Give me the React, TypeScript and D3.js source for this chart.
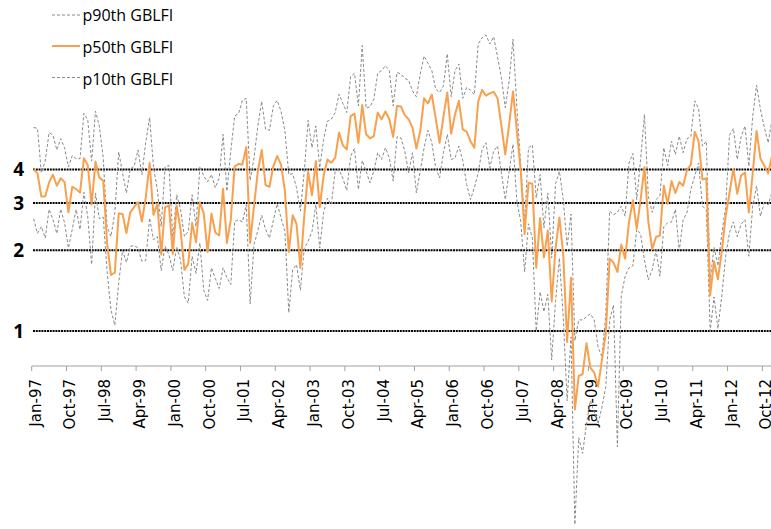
import React from "react";
import * as d3 from "d3";

// Monthly categories Jan-97 .. Dec-12
const categories: string[] = d3
  .timeMonth.range(new Date(1997, 0, 1), new Date(2013, 0, 1))
  .map(d3.timeFormat("%b-%y"));

const p90: number[] = [
  5.74, 5.69, 3.89, 4.30, 5.49, 5.37, 4.73, 5.21, 4.82, 4.09,
  4.51, 4.39, 4.39, 6.48, 6.12, 4.30, 6.60, 5.80, 4.42, 2.45,
  2.25, 2.76, 4.65, 3.89, 3.27, 4.02, 4.11, 4.73, 3.83, 5.06,
  6.25, 4.09, 3.37, 2.45, 4.09, 4.14, 2.20, 3.22, 2.84, 2.25,
  2.35, 3.22, 2.45, 4.11, 3.78, 3.60, 3.83, 3.42, 3.72, 5.41,
  3.32, 4.69, 6.33, 6.46, 7.24, 7.37, 3.64, 4.42, 5.81, 7.18,
  5.65, 5.60, 6.90, 7.24, 6.58, 5.57, 3.83, 3.86, 3.42, 2.80,
  3.94, 6.10, 4.82, 5.81, 4.06, 5.18, 6.06, 6.16, 6.52, 7.63,
  7.05, 6.52, 8.88, 9.14, 6.90, 11.6, 6.77, 6.85, 7.31, 9.14,
  9.35, 9.75, 9.35, 6.90, 9.20, 9.07, 8.75, 8.60, 7.85, 7.47,
  9.07, 10.6, 9.95, 9.35, 7.97, 7.75, 8.20, 10.8, 7.47, 9.35,
  9.90, 7.37, 8.09, 7.90, 7.60, 11.75, 12.4, 12.7, 11.75, 12.5,
  10.5, 8.80, 6.80, 8.57, 12.26, 6.80, 4.17, 2.53, 4.82, 4.94,
  3.13, 3.83, 2.42, 3.27, 1.87, 3.54, 3.94, 3.09, 2.07, 2.73,
  0.92, 1.10, 1.10, 1.13, 1.16, 1.10, 0.87, 0.80, 1.16, 2.80,
  2.71, 2.77, 2.92, 2.68, 4.23, 4.59, 3.09, 4.36, 6.42, 3.18,
  2.77, 3.09, 3.18, 4.82, 4.14, 5.10, 4.55, 5.33, 4.62, 5.21,
  5.30, 7.21, 6.75, 4.89, 5.10, 1.55, 2.05, 1.75, 2.30, 2.90,
  5.37, 5.69, 4.36, 5.30, 5.81, 4.11, 6.31, 8.24, 6.71, 5.74,
  5.03, 6.16,
];

const p50: number[] = [
  4.00, 3.87, 3.17, 3.18, 3.58, 3.83, 3.48, 3.71, 3.59, 2.77,
  3.45, 3.38, 3.28, 4.41, 4.16, 2.96, 4.28, 3.73, 3.63, 2.13,
  1.62, 1.65, 2.74, 2.73, 2.32, 2.77, 2.90, 3.02, 2.56, 3.14,
  4.23, 2.71, 2.98, 1.93, 2.89, 2.94, 1.94, 2.93, 2.39, 1.69,
  1.78, 2.53, 2.14, 3.02, 2.75, 1.97, 2.74, 2.33, 2.27, 3.39,
  2.13, 2.60, 4.11, 4.20, 4.17, 4.85, 2.13, 2.92, 3.94, 4.73,
  3.50, 3.45, 4.11, 4.49, 4.17, 3.32, 1.97, 2.70, 2.51, 1.72,
  2.68, 3.92, 3.21, 4.30, 2.89, 3.78, 4.36, 4.24, 4.42, 5.49,
  4.92, 4.75, 6.33, 6.46, 5.03, 6.96, 5.41, 5.23, 5.33, 6.52,
  6.16, 6.58, 6.16, 5.29, 6.90, 6.87, 6.38, 6.16, 5.73, 4.79,
  5.57, 7.37, 7.06, 7.60, 6.21, 5.03, 6.28, 7.75, 5.44, 6.42,
  7.21, 5.65, 5.54, 5.10, 4.82, 7.18, 7.92, 7.54, 7.69, 7.79,
  7.37, 5.81, 4.55, 5.89, 7.82, 5.57, 3.94, 2.30, 3.57, 3.54,
  1.72, 2.64, 1.88, 2.37, 1.29, 2.03, 2.65, 1.92, 0.91, 1.58,
  0.51, 0.68, 0.69, 0.90, 0.73, 0.70, 0.62, 0.78, 0.98, 1.86,
  1.80, 1.66, 2.10, 1.86, 2.55, 3.07, 2.41, 3.09, 4.08, 2.56,
  2.02, 2.24, 2.27, 3.48, 2.98, 3.62, 3.27, 3.59, 3.48, 3.98,
  4.17, 5.53, 5.10, 3.67, 3.71, 1.36, 1.82, 1.56, 1.98, 2.68,
  3.27, 4.02, 3.25, 3.80, 3.90, 2.77, 3.87, 5.57, 4.39, 4.14,
  3.87, 4.49,
];

const p10: number[] = [
  2.62, 2.31, 2.45, 2.22, 2.84, 2.60, 2.31, 2.85, 2.53, 2.04,
  2.40, 2.84, 2.39, 3.29, 2.66, 1.77, 3.27, 2.62, 2.66, 1.67,
  1.20, 1.05, 1.51, 2.00, 1.80, 2.07, 2.08, 2.04, 1.82, 1.83,
  2.64, 2.19, 2.25, 1.68, 2.07, 1.92, 1.68, 2.06, 1.84, 1.34,
  1.27, 1.90, 1.64, 2.13, 1.42, 1.30, 1.72, 1.57, 1.44, 1.72,
  1.58, 1.49, 2.56, 2.60, 2.55, 2.96, 1.26, 2.10, 2.37, 2.70,
  2.39, 2.22, 2.58, 2.98, 2.64, 2.35, 1.17, 1.69, 1.77, 1.42,
  2.03, 2.16, 2.35, 2.96, 2.04, 2.76, 3.13, 2.96, 3.94, 4.00,
  3.70, 3.34, 4.49, 4.79, 3.37, 4.32, 3.94, 3.57, 3.94, 4.62,
  4.36, 4.82, 4.42, 3.62, 5.30, 5.25, 4.69, 3.89, 4.62, 3.27,
  3.94, 4.82, 5.60, 5.03, 4.06, 3.72, 4.62, 5.41, 4.36, 4.42,
  4.89, 4.32, 3.52, 3.09, 3.42, 3.89, 4.75, 5.03, 4.06, 4.69,
  4.89, 3.89, 3.09, 3.94, 4.97, 3.05, 2.56, 1.66, 2.51, 2.22,
  1.00, 1.40, 1.18, 1.37, 0.78, 1.29, 1.87, 1.12, 0.55, 0.95,
  0.19, 0.40, 0.35, 0.45, 0.55, 0.50, 0.45, 0.52, 0.62, 1.10,
  1.25, 0.37, 1.35, 1.60, 1.72, 1.75, 2.39, 2.30, 1.84, 1.55,
  1.69, 2.00, 1.60, 2.45, 2.53, 2.55, 2.84, 1.99, 2.60, 2.76,
  3.37, 3.78, 4.23, 2.92, 2.84, 1.00, 1.34, 1.02, 1.35, 1.90,
  2.33, 2.55, 2.25, 2.50, 2.60, 1.90, 2.92, 3.47, 2.68, 3.00,
  2.95, 3.30,
];

const gridValues: number[] = [1, 2, 3, 4];
const tickLabels: string[] = [
  "Jan-97", "Oct-97", "Jul-98", "Apr-99", "Jan-00", "Oct-00", "Jul-01", "Apr-02",
  "Jan-03", "Oct-03", "Jul-04", "Apr-05", "Jan-06", "Oct-06", "Jul-07", "Apr-08",
  "Jan-09", "Oct-09", "Jul-10", "Apr-11", "Jan-12", "Oct-12",
];
const seriesNames: string[] = ["p90th GBLFI", "p50th GBLFI", "p10th GBLFI"];

const ORANGE = "#F9A04E";
const GRAY = "#8a8a8a";

export default function App() {
  const W = 771;
  const H = 529;
  const left = 31.7;
  const step = 3.866;
  const x = d3
    .scaleBand<string>()
    .domain(categories)
    .range([left, left + step * categories.length]);
  const y = d3.scaleLog().domain([1, 4]).range([331, 169.5]);
  const cx = (i: number) => (x(categories[i]) as number) + x.bandwidth() / 2;
  const line = d3
    .line<number>()
    .x((_, i) => cx(i))
    .y((d) => y(d));
  const axisY = 366;

  const series = [
    { name: seriesNames[0], data: p90, color: GRAY, dash: "3 2", width: 1 },
    { name: seriesNames[2], data: p10, color: GRAY, dash: "3 2", width: 1 },
    { name: seriesNames[1], data: p50, color: ORANGE, dash: undefined, width: 2 },
  ];

  const legend = [
    { name: seriesNames[0], color: GRAY, dash: "3 2", width: 1, ly: 15, ty: 21 },
    { name: seriesNames[1], color: ORANGE, dash: undefined, width: 2, ly: 46, ty: 53 },
    { name: seriesNames[2], color: GRAY, dash: "3 2", width: 1, ly: 77.5, ty: 85 },
  ];

  return (
    <svg
      width={W}
      height={H}
      style={{ position: "absolute", left: 0, top: 0, background: "#fff" }}
    >
      {/* horizontal reference lines */}
      {gridValues.map((v) => (
        <g key={"g" + v}>
          <line
            x1={33}
            x2={W}
            y1={y(v)}
            y2={y(v)}
            stroke="#000"
            strokeWidth={2}
            strokeDasharray="2 0.8"
          />
          <text
            x={24}
            y={y(v)}
            dy="0.36em"
            textAnchor="end"
            fontFamily="'Open Sans', sans-serif"
            fontWeight="bold"
            fontSize={19}
            fill="#000"
          >
            {v}
          </text>
        </g>
      ))}

      {/* x axis */}
      <line x1={left} x2={W} y1={axisY} y2={axisY} stroke="#a0a0a0" strokeWidth={1} />
      {tickLabels.map((lab) => {
        const bx = x(lab) as number;
        return (
          <g key={lab}>
            <line x1={bx} x2={bx} y1={axisY} y2={axisY + 5} stroke="#a0a0a0" strokeWidth={1} />
            <text
              transform={`translate(${bx + 9},${379}) rotate(-90)`}
              textAnchor="end"
              fontFamily="'DejaVu Sans', sans-serif"
              fontSize={15}
              fill="#000"
            >
              {lab}
            </text>
          </g>
        );
      })}

      {/* series */}
      {series.map((s) => (
        <path
          key={s.name}
          d={line(s.data) as string}
          fill="none"
          stroke={s.color}
          strokeWidth={s.width}
          strokeDasharray={s.dash}
          strokeLinejoin="round"
        />
      ))}

      {/* legend */}
      {legend.map((l) => (
        <g key={"lg" + l.name}>
          <line
            x1={52}
            x2={80}
            y1={l.ly}
            y2={l.ly}
            stroke={l.color}
            strokeWidth={l.width}
            strokeDasharray={l.dash}
          />
          <text
            x={82.5}
            y={l.ty}
            fontFamily="'Open Sans', sans-serif"
            fontSize={16}
            fill="#000"
          >
            {l.name}
          </text>
        </g>
      ))}
    </svg>
  );
}
